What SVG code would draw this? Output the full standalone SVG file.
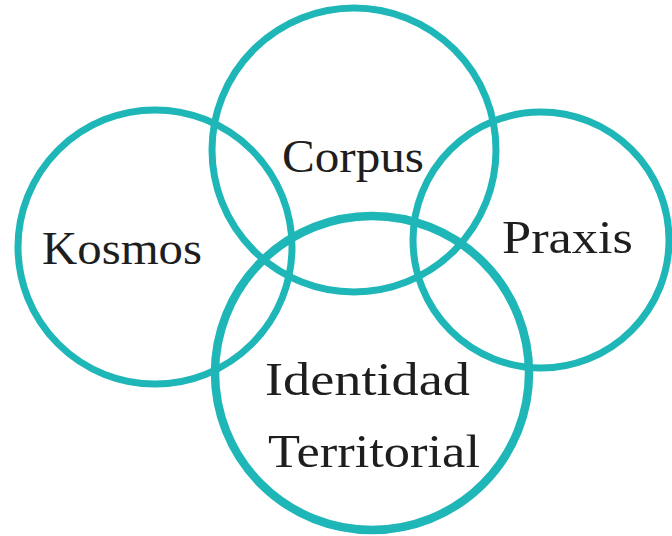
<svg xmlns="http://www.w3.org/2000/svg" width="672" height="536" viewBox="0 0 672 536">
<style>
.ring{fill:none;stroke:#1fb6b8;stroke-width:7}
.lbl{font-family:"Liberation Serif",serif;font-size:46px;fill:#1e1e1e}
</style>
<rect width="672" height="536" fill="#fff"/>
<g id="kosmos"><circle class="ring" cx="155" cy="247" r="137"/><text class="lbl" x="42" y="264" textLength="160" lengthAdjust="spacingAndGlyphs">Kosmos</text></g>
<g id="corpus"><circle class="ring" cx="354" cy="150" r="142"/><text class="lbl" x="282" y="172" textLength="142" lengthAdjust="spacingAndGlyphs">Corpus</text></g>
<g id="praxis"><circle class="ring" cx="541" cy="240" r="128"/><text class="lbl" x="502" y="253" textLength="131" lengthAdjust="spacingAndGlyphs">Praxis</text></g>
<g id="identidad"><circle class="ring" style="stroke-width:8.5" cx="372" cy="373" r="157"/><text class="lbl" x="265" y="395" textLength="205" lengthAdjust="spacingAndGlyphs">Identidad</text><text class="lbl" x="268" y="467" textLength="212" lengthAdjust="spacingAndGlyphs">Territorial</text></g>
</svg>
